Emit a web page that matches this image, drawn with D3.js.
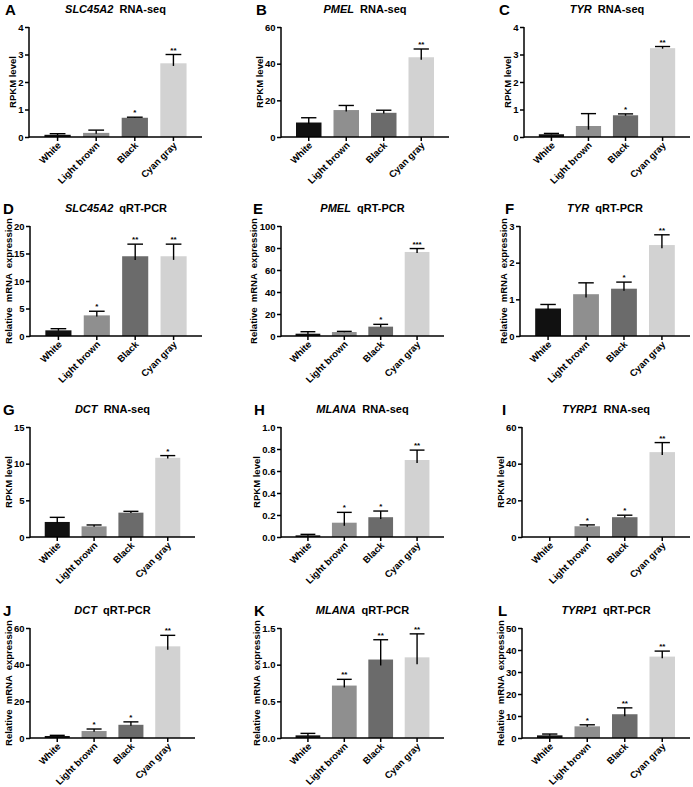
<!DOCTYPE html>
<html><head><meta charset="utf-8">
<script src="https://cdn.jsdelivr.net/npm/d3@7"></script>
<style>
html,body{margin:0;padding:0;background:#fff;}
svg text{font-family:"Liberation Sans",Arial,sans-serif;font-weight:bold;}
</style></head>
<body>
<svg id="chart" width="693" height="787"></svg>
<script>
// ---------- DATA ----------
const categories = ["White", "Light brown", "Black", "Cyan gray"];
const barColors = ["#111111", "#8f8f8f", "#6b6b6b", "#d2d2d2"];
const panelLetters = ["A","B","C","D","E","F","G","H","I","J","K","L"];
const geneNames = ["SLC45A2","PMEL","TYR","SLC45A2","PMEL","TYR","DCT","MLANA","TYRP1","DCT","MLANA","TYRP1"];
const assayNames = ["RNA-seq","RNA-seq","RNA-seq","qRT-PCR","qRT-PCR","qRT-PCR","RNA-seq","RNA-seq","RNA-seq","qRT-PCR","qRT-PCR","qRT-PCR"];
const yTitles = {"RNA-seq": "RPKM level", "qRT-PCR": "Relative  mRNA  expression"};
const yMaxes = [4, 60, 4, 20, 100, 3, 15, 1.0, 60, 60, 1.5, 50];
const yTicks = [
  [0,1,2,3,4], [0,20,40,60], [0,1,2,3,4],
  [0,5,10,15,20], [0,20,40,60,80,100], [0,1,2,3],
  [0,5,10,15], [0,0.2,0.4,0.6,0.8,1.0], [0,20,40,60],
  [0,20,40,60], [0,0.5,1.0,1.5], [0,10,20,30,40,50]
];
const tickFormats = ["d","d","d","d","d","d","d",".1f","d","d",".1f","d"];
const means = [
  [0.08, 0.15, 0.70, 2.68],
  [7.9, 14.7, 13.2, 43.5],
  [0.10, 0.40, 0.79, 3.23],
  [1.03, 3.75, 14.5, 14.5],
  [2.1, 3.6, 8.5, 76.4],
  [0.75, 1.14, 1.29, 2.48],
  [2.05, 1.45, 3.32, 10.8],
  [0.015, 0.13, 0.18, 0.70],
  [0.0, 5.85, 10.8, 46.3],
  [1.1, 3.8, 7.2, 50.0],
  [0.036, 0.715, 1.07, 1.10],
  [1.2, 5.3, 10.8, 37.0]
];
const errors = [
  [0.04, 0.10, 0.02, 0.32],
  [2.6, 2.5, 1.4, 4.5],
  [0.03, 0.45, 0.05, 0.06],
  [0.30, 0.75, 2.2, 2.2],
  [1.8, 0.6, 2.1, 3.1],
  [0.11, 0.31, 0.18, 0.28],
  [0.63, 0.19, 0.18, 0.3],
  [0.009, 0.094, 0.056, 0.09],
  [0.0, 0.75, 1.1, 5.2],
  [0.35, 1.1, 1.6, 6.0],
  [0.027, 0.085, 0.27, 0.32],
  [0.6, 0.7, 2.9, 2.5]
];
const stars = [
  ["", "", "*", "**"],
  ["", "", "", "**"],
  ["", "", "*", "**"],
  ["", "*", "**", "**"],
  ["", "", "*", "***"],
  ["", "", "*", "**"],
  ["", "", "", "*"],
  ["", "*", "*", "**"],
  ["", "*", "*", "**"],
  ["", "*", "*", "**"],
  ["", "**", "**", "**"],
  ["", "*", "**", "**"]
];

// ---------- LAYOUT ----------
const rowTops = [27, 226, 427, 628];
const plotH = 110;
const axisLeft = [29, 281, 524, 30, 281, 520, 30, 281, 522, 30, 281, 522];
const axisRight = [202, 449, 690, 202, 444, 690, 195, 444, 690, 195, 444, 690];
const letterX = [5, 256, 499, 3, 253, 505, 3, 254, 502, 3, 254, 498];

const svg = d3.select("#chart");

panelLetters.forEach((letter, i) => {
  const row = Math.floor(i / 3);
  const top = rowTops[row], bottom = top + plotH;
  const x0 = axisLeft[i], x1 = axisRight[i];
  const g = svg.append("g");

  const x = d3.scaleBand().domain(categories).range([x0, x1]).paddingInner(0.32).paddingOuter(0.4);
  const y = d3.scaleLinear().domain([0, yMaxes[i]]).range([bottom, top]);

  // bars
  const data = categories.map((c, k) => ({c, k, m: means[i][k], e: errors[i][k], s: stars[i][k]}));
  g.selectAll("rect.bar").data(data).join("rect")
    .attr("class", "bar")
    .attr("x", d => x(d.c))
    .attr("width", x.bandwidth())
    .attr("y", d => y(d.m))
    .attr("height", d => Math.max(0, y(0) - y(d.m)))
    .attr("fill", d => barColors[d.k]);

  // error bars
  const capHalf = x.bandwidth() * 0.3;
  const eb = g.selectAll("g.eb").data(data.filter(d => d.m > 0 || d.e > 0)).join("g").attr("class", "eb");
  eb.append("line")
    .attr("x1", d => x(d.c) + x.bandwidth() / 2).attr("x2", d => x(d.c) + x.bandwidth() / 2)
    .attr("y1", d => y(Math.max(0, d.m - d.e * 0.3))).attr("y2", d => y(d.m + d.e))
    .attr("stroke", "#000").attr("stroke-width", 1.4);
  eb.append("line")
    .attr("x1", d => x(d.c) + x.bandwidth() / 2 - capHalf).attr("x2", d => x(d.c) + x.bandwidth() / 2 + capHalf)
    .attr("y1", d => y(d.m + d.e)).attr("y2", d => y(d.m + d.e))
    .attr("stroke", "#000").attr("stroke-width", 1.4);

  // stars
  g.selectAll("text.star").data(data.filter(d => d.s)).join("text")
    .attr("class", "star")
    .attr("x", d => x(d.c) + x.bandwidth() / 2)
    .attr("y", d => y(d.m + d.e) - 2)
    .attr("text-anchor", "middle")
    .attr("font-size", 8)
    .text(d => d.s);

  // y axis
  const fmt = d3.format(tickFormats[i]);
  const yAxis = g.append("g").attr("transform", `translate(${x0},0)`)
    .call(d3.axisLeft(y).tickValues(yTicks[i]).tickFormat(v => fmt(v)).tickSize(4).tickPadding(1.5));
  yAxis.select(".domain").attr("stroke-width", 1.5).attr("d", `M0,${bottom + 0.75}V${top}`);
  yAxis.selectAll(".tick line").attr("stroke-width", 1.5);
  yAxis.selectAll(".tick text").attr("font-size", 9.5).attr("fill", "#000")
    .style("font-family", "'Liberation Sans', Arial, sans-serif").style("font-weight", "bold");
  let maxW = 0;
  yAxis.selectAll(".tick text").each(function () { maxW = Math.max(maxW, this.getComputedTextLength()); });

  // x axis
  const xAxis = g.append("g").attr("transform", `translate(0,${bottom})`)
    .call(d3.axisBottom(x).tickSize(4).tickSizeOuter(0).tickPadding(2));
  xAxis.select(".domain").attr("stroke-width", 1.5).attr("d", `M${x0},0H${x1}`);
  xAxis.selectAll(".tick line").attr("stroke-width", 1.5);
  xAxis.selectAll(".tick text")
    .attr("font-size", 9.5).attr("fill", "#000")
    .style("font-family", "'Liberation Sans', Arial, sans-serif").style("font-weight", "bold")
    .attr("text-anchor", "end")
    .attr("dy", null).attr("y", 0)
    .attr("transform", "translate(4,9) rotate(-45)");

  // y title
  const assay = assayNames[i];
  g.append("text")
    .attr("transform", `translate(${x0 - 4 - 2 - maxW - 5},${(top + bottom) / 2}) rotate(-90)`)
    .attr("text-anchor", "middle")
    .attr("dy", "0.35em")
    .attr("font-size", 9.5)
    .style("white-space", "pre")
    .text(yTitles[assay]);

  // title
  const t = g.append("text")
    .attr("x", (x0 + x1) / 2).attr("y", top - 14)
    .attr("text-anchor", "middle").attr("font-size", 11)
    .style("white-space", "pre");
  t.append("tspan").attr("font-style", "italic").text(geneNames[i]);
  t.append("tspan").text("  " + assay);

  // panel letter
  g.append("text").attr("x", letterX[i]).attr("y", top - 12)
    .attr("font-size", 15).text(letter);
});
</script>
</body></html>
